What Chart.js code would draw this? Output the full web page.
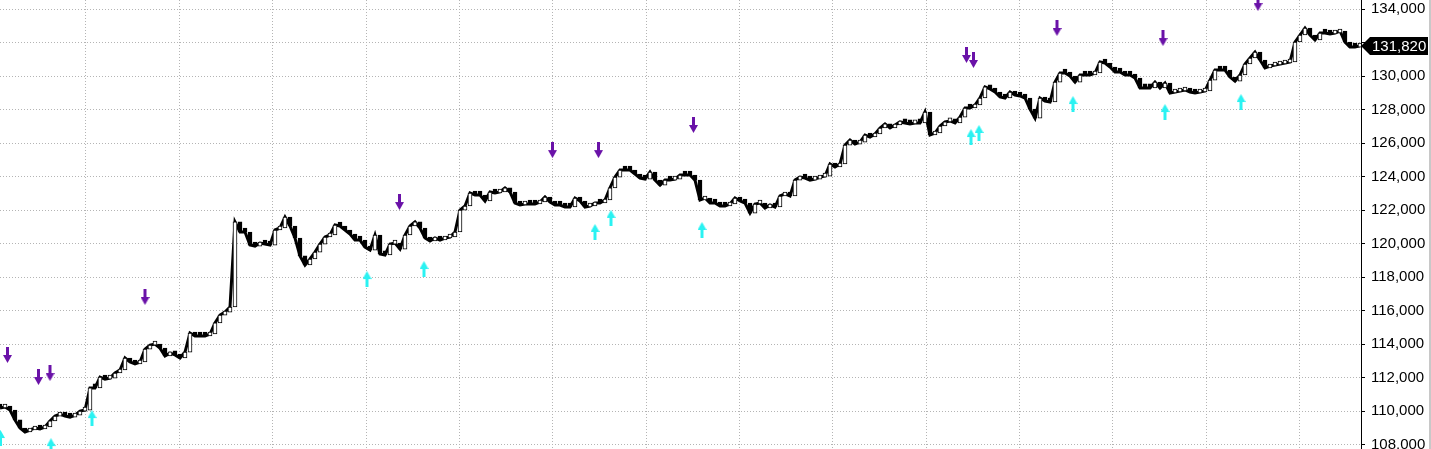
<!DOCTYPE html>
<html>
<head>
<meta charset="utf-8">
<script src="https://cdn.jsdelivr.net/npm/chart.js@4.4.1/dist/chart.umd.min.js"></script>
<style>
  html, body { margin: 0; padding: 0; background: #fff; }
  #wrap { width: 1431px; height: 449px; position: relative; }
</style>
</head>
<body>
<div id="wrap"><canvas id="chart"></canvas></div>
<script>
// closing prices, one per bar
const closes = [
  110190, 110250, 110070, 109480, 109000, 108760, 108880, 109000, 108940, 109060,
  109420, 109710, 109830, 109710, 109650, 109770, 110010, 110070, 111390, 111390,
  112040, 111920, 111980, 112280, 112460, 113180, 112940, 112820, 112940, 113710,
  113950, 114010, 113770, 113300, 113470, 113360, 113180, 113530, 114670, 114490,
  114490, 114490, 114610, 115270, 115740, 115920, 116220, 121300, 120700, 120700,
  119920, 119860, 120040, 119980, 119920, 120820, 120940, 121590, 121060, 120340,
  119270, 118730, 119090, 119500, 119980, 120400, 120520, 121120, 121060, 120820,
  120580, 120220, 120220, 119800, 119620, 120520, 119390, 119330, 119980, 120040,
  119680, 120520, 121060, 121300, 120940, 120340, 120160, 120340, 120220, 120340,
  120400, 120700, 122010, 122250, 123030, 122910, 122910, 122550, 123090, 123030,
  123090, 123330, 123090, 122430, 122310, 122370, 122370, 122370, 122490, 122790,
  122490, 122310, 122310, 122190, 122190, 122730, 122550, 122190, 122250, 122430,
  122430, 122610, 123330, 123980, 124400, 124400, 124400, 124160, 123920, 123860,
  124280, 123800, 123500, 123800, 123800, 123860, 124100, 124100, 124100, 123800,
  122610, 122730, 122430, 122430, 122250, 122250, 122370, 122730, 122550, 122430,
  121830, 122370, 122430, 122130, 122310, 122190, 122850, 122970, 122850, 123800,
  123980, 123920, 123800, 123860, 123980, 124040, 124760, 124580, 124760, 125890,
  126190, 125950, 126070, 126490, 126370, 126550, 126910, 127150, 126910, 127090,
  127270, 127210, 127150, 127210, 127210, 127860, 126490, 126610, 127030, 127270,
  127330, 127210, 127560, 128100, 128100, 128280, 128700, 129360, 129240, 129060,
  128760, 128700, 129060, 128880, 128820, 128700, 128040, 127500, 128700, 128520,
  128460, 129650, 130190, 130190, 130010, 129650, 130070, 130070, 130070, 130190,
  130850, 130790, 130550, 130250, 130250, 130070, 130070, 129890, 129300, 129300,
  129300, 129650, 129300, 129590, 129000, 129060, 129120, 129180, 129060, 129000,
  129060, 129120, 129770, 130370, 130370, 130370, 129950, 129710, 130070, 130730,
  131090, 131440, 130970, 130490, 130610, 130670, 130730, 130790, 130850, 132040,
  132460, 132880, 132460, 132160, 132580, 132580, 132520, 132580, 132700, 132040,
  131740, 131740, 131820
];
const barIndex = closes.map((_, i) => i);

// sell signals (purple, down arrows) and buy signals (cyan, up arrows)
const sellBars   = [1.5, 7.7, 10, 29, 79.9, 110.5, 119.7, 138.7, 193.3, 194.7, 211.4, 232.6, 251.6];
const sellLevels = [113360, 112040, 112280, 116820, 122490, 125590, 125590, 127090, 131270, 130970, 132880, 132280, 134370];
const buyBars    = [0.1, 10.2, 18.4, 73.4, 84.8, 119, 122.2, 140.4, 194.2, 195.8, 214.6, 233, 248.2];
const buyLevels  = [108400, 107920, 109590, 117890, 118490, 120700, 121540, 120820, 126370, 126610, 128340, 127860, 128460];

// price axis
const yTicks = [108000, 110000, 112000, 114000, 116000, 118000, 120000,
                122000, 124000, 126000, 128000, 130000, 132000, 134000];
const yMin = 107745, yMax = 134550;
const gridStart = 17.2, gridStep = 18.667;

function arrow(color, down) {
  const c = document.createElement('canvas');
  c.width = 9; c.height = 16;
  const g = c.getContext('2d');
  g.fillStyle = color;
  g.beginPath();
  if (down) {
    g.moveTo(3, 0); g.lineTo(6, 0); g.lineTo(6, 8); g.lineTo(9, 8);
    g.lineTo(4.5, 16); g.lineTo(0, 8); g.lineTo(3, 8);
  } else {
    g.moveTo(3, 16); g.lineTo(6, 16); g.lineTo(6, 8); g.lineTo(9, 8);
    g.lineTo(4.5, 0); g.lineTo(0, 8); g.lineTo(3, 8);
  }
  g.closePath();
  g.fill();
  return c;
}

const lastLabel = {
  id: 'lastLabel',
  afterDraw(chart) {
    const ctx = chart.ctx;
    const v = closes[closes.length - 1];
    const py = Math.round(chart.scales.y.getPixelForValue(v));
    const x0 = chart.chartArea.right;
    ctx.save();
    ctx.fillStyle = '#c8c8c8';
    ctx.fillRect(chart.width - 2, 0, 2, chart.height);
    ctx.fillStyle = '#000';
    ctx.beginPath();
    ctx.moveTo(x0, py);
    ctx.lineTo(x0 + 9, py - 9);
    ctx.lineTo(chart.width - 3, py - 9);
    ctx.lineTo(chart.width - 3, py + 9);
    ctx.lineTo(x0 + 9, py + 9);
    ctx.closePath();
    ctx.fill();
    ctx.fillStyle = '#fff';
    ctx.font = '15px "Liberation Sans", Arial, sans-serif';
    ctx.textBaseline = 'middle';
    ctx.fillText(v.toLocaleString('en-US'), x0 + 11, py + 1);
    ctx.restore();
  }
};

new Chart(document.getElementById('chart'), {
  type: 'bar',
  data: {
    datasets: [
      {
        type: 'scatter',
        data: sellBars.map((b, i) => ({ x: b, y: sellLevels[i] })),
        pointStyle: arrow('#6a12a8', true),
        order: 0
      },
      {
        type: 'scatter',
        data: buyBars.map((b, i) => ({ x: b, y: buyLevels[i] })),
        pointStyle: arrow('#2af2f2', false),
        order: 0
      },
      {
        type: 'bar',
        data: barIndex.map(i => ({ x: i, y: [i ? closes[i - 1] : closes[i], closes[i]] })),
        backgroundColor: barIndex.map(i => (i && closes[i] > closes[i - 1]) ? '#fff' : '#000'),
        borderColor: '#000',
        borderWidth: 1,
        borderSkipped: false,
        barThickness: 4,
        minBarLength: 4,
        order: 2
      },
      {
        type: 'line',
        data: barIndex.map(i => ({ x: i, y: closes[i] })),
        borderColor: '#000',
        borderWidth: 3,
        pointRadius: 0,
        order: 3
      }
    ]
  },
  options: {
    responsive: true,
    maintainAspectRatio: false,
    animation: false,
    events: [],
    layout: { padding: 0, autoPadding: false },
    plugins: { legend: { display: false }, tooltip: { enabled: false } },
    scales: {
      x: {
        type: 'linear',
        offset: false,
        min: 0,
        max: 272.2,
        ticks: { display: false },
        border: { display: false, dash: [1, 2] },
        grid: { color: '#b4b4b4', drawTicks: false, offset: false },
        afterBuildTicks: s => {
          const t = [];
          for (let v = gridStart; v < s.max; v += gridStep) t.push({ value: v });
          s.ticks = t;
        },
        afterFit: s => { s.height = 0; }
      },
      y: {
        position: 'right',
        min: yMin,
        max: yMax,
        border: { display: true, color: '#000', width: 1, dash: [1, 2] },
        grid: { color: '#b4b4b4', tickColor: '#000', tickLength: 4, tickBorderDash: [] },
        afterBuildTicks: s => { s.ticks = yTicks.map(v => ({ value: v })); },
        ticks: {
          autoSkip: false,
          color: '#000',
          padding: 6,
          font: { family: '"Liberation Sans", Arial, sans-serif', size: 15 },
          callback: v => v.toLocaleString('en-US')
        },
        afterFit: s => { s.width = 70; s.paddingTop = 0; s.paddingBottom = 0; }
      }
    }
  },
  plugins: [lastLabel]
});
</script>
</body>
</html>
